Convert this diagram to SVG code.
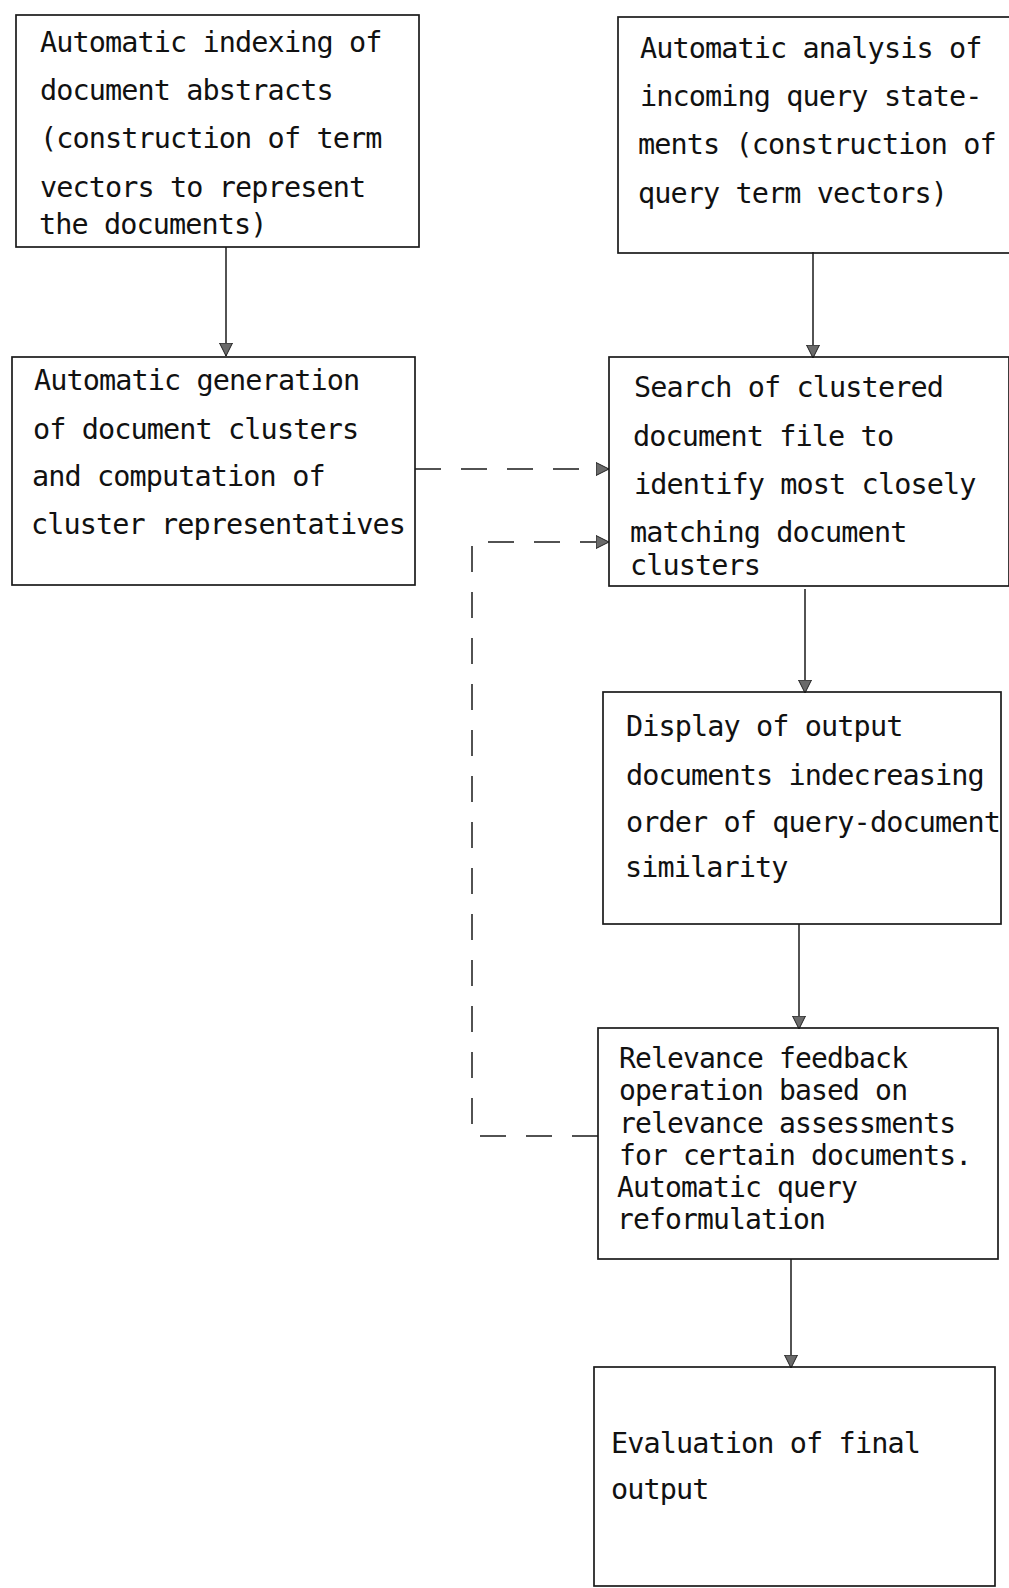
<svg xmlns="http://www.w3.org/2000/svg" width="1009" height="1588" viewBox="0 0 1009 1588">
<style>
.box{fill:none;stroke:#1a1a1a;stroke-width:1.7}
.t{font-family:"DejaVu Sans Mono","Liberation Mono",monospace;font-size:28.5px;letter-spacing:-0.9px;fill:#111}
.t2{font-family:"DejaVu Sans Mono","Liberation Mono",monospace;font-size:28px;letter-spacing:-0.85px;fill:#111}
.c{fill:none;stroke:#1a1a1a;stroke-width:1.5}
.d{fill:none;stroke:#1a1a1a;stroke-width:1.5;stroke-dasharray:26 20}
</style>
<defs>
<marker id="ah" markerUnits="userSpaceOnUse" markerWidth="16" markerHeight="16" refX="13" refY="7" orient="auto">
<path d="M0,0.5 L13,7 L0,13.5 z" fill="#6a6a6a" stroke="#222" stroke-width="1" stroke-dasharray="none"/>
</marker>
</defs>
<rect width="1009" height="1588" fill="#fff"/>
<g id="connectors">
<path class="c" d="M226,247 V356" marker-end="url(#ah)"/>
<path class="c" d="M813,252 V358" marker-end="url(#ah)"/>
<path class="d" d="M415,469 H609" marker-end="url(#ah)"/>
<path class="d" d="M598,1136 H472 V542 H609" marker-end="url(#ah)"/>
<path class="c" d="M805,589 V693" marker-end="url(#ah)"/>
<path class="c" d="M799,924 V1029" marker-end="url(#ah)"/>
<path class="c" d="M791,1259 V1368" marker-end="url(#ah)"/>
</g>
<g id="n1">
<rect class="box" x="16" y="15" width="403" height="232"/>
<text class="t" x="40" y="52">Automatic indexing of</text>
<text class="t" x="40" y="100">document abstracts</text>
<text class="t" x="40" y="148">(construction of term</text>
<text class="t" x="40" y="197">vectors to represent</text>
<text class="t" x="39" y="234">the documents)</text>
</g>
<g id="n2">
<rect class="box" x="618" y="17" width="400" height="236"/>
<text class="t" x="640" y="58">Automatic analysis of</text>
<text class="t" x="640" y="106">incoming query state-</text>
<text class="t" x="638" y="154">ments (construction of</text>
<text class="t" x="638" y="203">query term vectors)</text>
</g>
<g id="n3">
<rect class="box" x="12" y="357" width="403" height="228"/>
<text class="t" x="34" y="390">Automatic generation</text>
<text class="t" x="33" y="439">of document clusters</text>
<text class="t" x="32" y="486">and computation of</text>
<text class="t" x="31" y="534">cluster representatives</text>
</g>
<g id="n4">
<rect class="box" x="609" y="357" width="400" height="229"/>
<text class="t" x="634" y="397">Search of clustered</text>
<text class="t" x="633" y="446">document file to</text>
<text class="t" x="634" y="494">identify most closely</text>
<text class="t" x="630" y="542">matching document</text>
<text class="t" x="630" y="575">clusters</text>
</g>
<g id="n5">
<rect class="box" x="603" y="692" width="398" height="232"/>
<text class="t" x="626" y="736">Display of output</text>
<text class="t" x="626" y="785">documents indecreasing</text>
<text class="t" x="626" y="832">order of query-document</text>
<text class="t" x="625" y="877">similarity</text>
</g>
<g id="n6">
<rect class="box" x="598" y="1028" width="400" height="231"/>
<text class="t2" x="619" y="1068">Relevance feedback</text>
<text class="t2" x="619" y="1100">operation based on</text>
<text class="t2" x="619" y="1133">relevance assessments</text>
<text class="t2" x="619" y="1165">for certain documents.</text>
<text class="t2" x="617" y="1197">Automatic query</text>
<text class="t2" x="617" y="1229">reformulation</text>
</g>
<g id="n7">
<rect class="box" x="594" y="1367" width="401" height="219"/>
<text class="t" x="611" y="1453">Evaluation of final</text>
<text class="t" x="611" y="1499">output</text>
</g>
</svg>
